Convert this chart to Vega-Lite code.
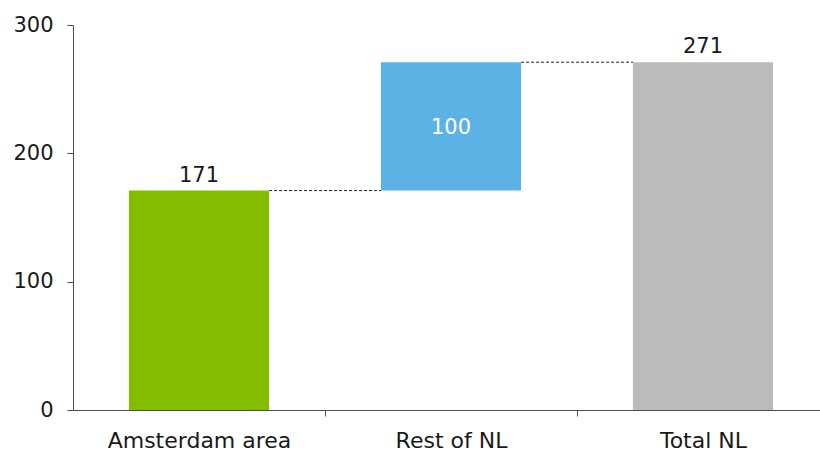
{
  "$schema": "https://vega.github.io/schema/vega-lite/v6.json",
  "autosize": "none",
  "padding": {"left": 73, "top": 25, "right": 0, "bottom": 46},
  "width": 756,
  "height": 385,
  "background": "white",
  "config": {
    "view": {"stroke": null},
    "font": "DejaVu Sans",
    "axis": {
      "domainColor": "#4d4d4d",
      "tickColor": "#4d4d4d",
      "labelColor": "#1a1a1a",
      "labelFont": "DejaVu Sans",
      "grid": false,
      "title": null
    }
  },
  "datasets": {
    "steps": [
      {"category": "Amsterdam area", "start": 0, "end": 171, "value": 171, "kind": "total"},
      {"category": "Rest of NL", "start": 171, "end": 271, "value": 100, "kind": "delta"},
      {"category": "Total NL", "start": 0, "end": 271, "value": 271, "kind": "sum"}
    ],
    "links": [
      {"from": "Amsterdam area", "to": "Rest of NL", "level": 171},
      {"from": "Rest of NL", "to": "Total NL", "level": 271}
    ]
  },
  "encoding": {
    "x": {
      "field": "category",
      "type": "nominal",
      "sort": ["Amsterdam area", "Rest of NL", "Total NL"],
      "scale": {"paddingInner": 0.444, "paddingOuter": 0.222},
      "axis": {
        "labelAngle": 0,
        "labelFontSize": 22,
        "labelPadding": 14,
        "labelLimit": 400,
        "labelOverlap": false,
        "labelBound": false,
        "tickSize": 6,
        "tickOffset": 126,
        "labelOffset": -126
      }
    }
  },
  "layer": [
    {
      "data": {"name": "links"},
      "mark": {"type": "rule", "strokeDash": [3, 2], "strokeWidth": 1, "color": "#222222"},
      "encoding": {
        "x": {"field": "from", "type": "nominal", "sort": ["Amsterdam area", "Rest of NL", "Total NL"], "bandPosition": 1},
        "x2": {"field": "to", "bandPosition": 0},
        "y": {"field": "level", "type": "quantitative"}
      }
    },
    {
      "data": {"name": "steps"},
      "mark": {"type": "bar"},
      "encoding": {
        "y": {
          "field": "start",
          "type": "quantitative",
          "scale": {"domain": [0, 300], "nice": false},
          "axis": {
            "values": [0, 100, 200, 300],
            "labelFontSize": 21,
            "labelPadding": 14,
            "tickSize": 6
          }
        },
        "y2": {"field": "end"},
        "color": {
          "field": "kind",
          "type": "nominal",
          "scale": {"domain": ["total", "delta", "sum"], "range": ["#84bd00", "#5db2e5", "#bbbbbb"]},
          "legend": null
        }
      }
    },
    {
      "data": {"name": "steps"},
      "transform": [{"filter": "datum.kind !== 'delta'"}],
      "mark": {"type": "text", "baseline": "alphabetic", "dy": -9, "fontSize": 21, "color": "#1a1a1a"},
      "encoding": {
        "y": {"field": "end", "type": "quantitative"},
        "text": {"field": "value", "type": "quantitative"}
      }
    },
    {
      "data": {"name": "steps"},
      "transform": [{"filter": "datum.kind === 'delta'"}, {"calculate": "(datum.start + datum.end) / 2", "as": "mid"}],
      "mark": {"type": "text", "baseline": "middle", "dy": 2, "fontSize": 21, "color": "white"},
      "encoding": {
        "y": {"field": "mid", "type": "quantitative"},
        "text": {"field": "value", "type": "quantitative"}
      }
    }
  ]
}
